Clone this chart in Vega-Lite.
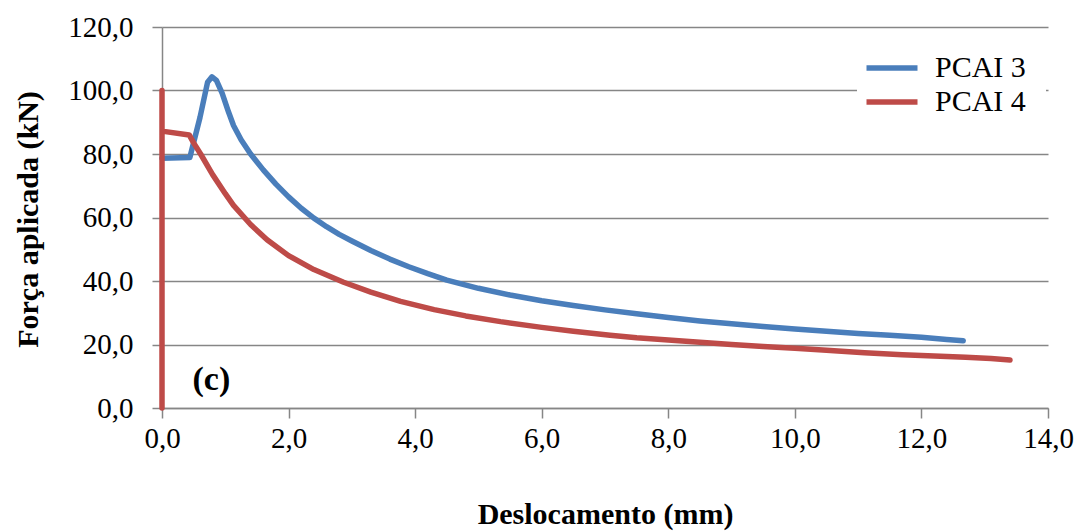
{
  "$schema": "https://vega.github.io/schema/vega-lite/v6.json",
  "width": 886,
  "height": 381,
  "autosize": {"type": "none"},
  "padding": {"left": 162, "top": 27, "right": 36, "bottom": 124},
  "background": "white",
  "config": {
    "view": {"stroke": null},
    "font": "Liberation Serif"
  },
  "layer": [
    {
      "data": {
        "values": [
          {"s": "PCAI 3", "i": 1, "x": 0.0, "y": 78.7},
          {"s": "PCAI 3", "i": 2, "x": 0.44, "y": 78.9},
          {"s": "PCAI 3", "i": 3, "x": 0.6, "y": 91.5},
          {"s": "PCAI 3", "i": 4, "x": 0.72, "y": 102.6},
          {"s": "PCAI 3", "i": 5, "x": 0.79, "y": 104.3},
          {"s": "PCAI 3", "i": 6, "x": 0.86, "y": 103.2},
          {"s": "PCAI 3", "i": 7, "x": 0.95, "y": 99.2},
          {"s": "PCAI 3", "i": 8, "x": 1.05, "y": 93.3},
          {"s": "PCAI 3", "i": 9, "x": 1.13, "y": 89.0},
          {"s": "PCAI 3", "i": 10, "x": 1.25, "y": 84.5},
          {"s": "PCAI 3", "i": 11, "x": 1.4, "y": 80.0},
          {"s": "PCAI 3", "i": 12, "x": 1.6, "y": 75.0},
          {"s": "PCAI 3", "i": 13, "x": 1.8, "y": 70.5},
          {"s": "PCAI 3", "i": 14, "x": 2.0, "y": 66.5},
          {"s": "PCAI 3", "i": 15, "x": 2.2, "y": 62.9},
          {"s": "PCAI 3", "i": 16, "x": 2.4, "y": 59.8},
          {"s": "PCAI 3", "i": 17, "x": 2.6, "y": 57.1},
          {"s": "PCAI 3", "i": 18, "x": 2.8, "y": 54.7},
          {"s": "PCAI 3", "i": 19, "x": 3.0, "y": 52.6},
          {"s": "PCAI 3", "i": 20, "x": 3.3, "y": 49.6},
          {"s": "PCAI 3", "i": 21, "x": 3.6, "y": 46.9},
          {"s": "PCAI 3", "i": 22, "x": 3.9, "y": 44.5},
          {"s": "PCAI 3", "i": 23, "x": 4.2, "y": 42.3},
          {"s": "PCAI 3", "i": 24, "x": 4.5, "y": 40.3},
          {"s": "PCAI 3", "i": 25, "x": 5.0, "y": 37.7},
          {"s": "PCAI 3", "i": 26, "x": 5.5, "y": 35.6},
          {"s": "PCAI 3", "i": 27, "x": 6.0, "y": 33.8},
          {"s": "PCAI 3", "i": 28, "x": 6.5, "y": 32.3},
          {"s": "PCAI 3", "i": 29, "x": 7.0, "y": 30.9},
          {"s": "PCAI 3", "i": 30, "x": 7.5, "y": 29.7},
          {"s": "PCAI 3", "i": 31, "x": 8.0, "y": 28.5},
          {"s": "PCAI 3", "i": 32, "x": 8.5, "y": 27.4},
          {"s": "PCAI 3", "i": 33, "x": 9.0, "y": 26.5},
          {"s": "PCAI 3", "i": 34, "x": 9.5, "y": 25.7},
          {"s": "PCAI 3", "i": 35, "x": 10.0, "y": 24.9},
          {"s": "PCAI 3", "i": 36, "x": 10.5, "y": 24.2},
          {"s": "PCAI 3", "i": 37, "x": 11.0, "y": 23.5},
          {"s": "PCAI 3", "i": 38, "x": 11.5, "y": 22.9},
          {"s": "PCAI 3", "i": 39, "x": 12.0, "y": 22.3},
          {"s": "PCAI 3", "i": 40, "x": 12.4, "y": 21.6},
          {"s": "PCAI 3", "i": 41, "x": 12.66, "y": 21.2},
          {"s": "PCAI 4", "i": 1, "x": 0.0, "y": 0.0},
          {"s": "PCAI 4", "i": 2, "x": 0.0, "y": 100.0},
          {"s": "PCAI 4", "i": 3, "x": 0.0, "y": 87.2},
          {"s": "PCAI 4", "i": 4, "x": 0.43, "y": 86.0},
          {"s": "PCAI 4", "i": 5, "x": 0.5, "y": 83.5},
          {"s": "PCAI 4", "i": 6, "x": 0.61, "y": 80.0},
          {"s": "PCAI 4", "i": 7, "x": 0.8, "y": 73.5},
          {"s": "PCAI 4", "i": 8, "x": 1.0, "y": 67.5},
          {"s": "PCAI 4", "i": 9, "x": 1.13, "y": 63.8},
          {"s": "PCAI 4", "i": 10, "x": 1.4, "y": 57.8},
          {"s": "PCAI 4", "i": 11, "x": 1.66, "y": 53.0},
          {"s": "PCAI 4", "i": 12, "x": 2.0, "y": 48.0},
          {"s": "PCAI 4", "i": 13, "x": 2.4, "y": 43.6},
          {"s": "PCAI 4", "i": 14, "x": 2.87, "y": 39.6},
          {"s": "PCAI 4", "i": 15, "x": 3.3, "y": 36.5},
          {"s": "PCAI 4", "i": 16, "x": 3.77, "y": 33.6},
          {"s": "PCAI 4", "i": 17, "x": 4.3, "y": 31.0},
          {"s": "PCAI 4", "i": 18, "x": 4.8, "y": 29.0},
          {"s": "PCAI 4", "i": 19, "x": 5.35, "y": 27.2},
          {"s": "PCAI 4", "i": 20, "x": 6.0, "y": 25.4},
          {"s": "PCAI 4", "i": 21, "x": 6.5, "y": 24.2},
          {"s": "PCAI 4", "i": 22, "x": 7.08, "y": 22.9},
          {"s": "PCAI 4", "i": 23, "x": 7.5, "y": 22.1},
          {"s": "PCAI 4", "i": 24, "x": 8.0, "y": 21.4},
          {"s": "PCAI 4", "i": 25, "x": 8.5, "y": 20.7},
          {"s": "PCAI 4", "i": 26, "x": 9.0, "y": 20.0},
          {"s": "PCAI 4", "i": 27, "x": 9.5, "y": 19.4},
          {"s": "PCAI 4", "i": 28, "x": 10.0, "y": 18.8},
          {"s": "PCAI 4", "i": 29, "x": 10.5, "y": 18.2},
          {"s": "PCAI 4", "i": 30, "x": 11.1, "y": 17.4},
          {"s": "PCAI 4", "i": 31, "x": 11.7, "y": 16.8},
          {"s": "PCAI 4", "i": 32, "x": 12.2, "y": 16.4},
          {"s": "PCAI 4", "i": 33, "x": 12.7, "y": 16.0},
          {"s": "PCAI 4", "i": 34, "x": 13.1, "y": 15.6},
          {"s": "PCAI 4", "i": 35, "x": 13.4, "y": 15.1}
        ]
      },
      "mark": {"type": "line", "strokeWidth": 5.5, "strokeCap": "round", "strokeJoin": "round"},
      "encoding": {
        "x": {
          "field": "x", "type": "quantitative",
          "scale": {"domain": [0, 14], "nice": false},
          "axis": {
            "values": [0, 2, 4, 6, 8, 10, 12, 14],
            "labelExpr": "replace(format(datum.value, '.1f'), '.', ',')",
            "labelFlush": false,
            "grid": false,
            "domainColor": "#868686", "domainWidth": 1.5,
            "tickColor": "#868686", "tickWidth": 1.5, "tickSize": 10,
            "labelFont": "Liberation Serif", "labelFontSize": 29, "labelColor": "black",
            "labelPadding": 6,
            "title": "Deslocamento (mm)",
            "titleFont": "Liberation Serif", "titleFontSize": 30, "titleFontWeight": "bold", "titleColor": "black",
            "titleX": 443, "titleY": 106, "titleBaseline": "middle", "titleAlign": "center"
          }
        },
        "y": {
          "field": "y", "type": "quantitative",
          "scale": {"domain": [0, 120], "nice": false},
          "axis": {
            "values": [0, 20, 40, 60, 80, 100, 120],
            "labelExpr": "replace(format(datum.value, '.1f'), '.', ',')",
            "labelFlush": false,
            "grid": true, "gridColor": "#868686", "gridWidth": 1.5,
            "domainColor": "#868686", "domainWidth": 1.5,
            "tickColor": "#868686", "tickWidth": 1.5, "tickSize": 10,
            "labelFont": "Liberation Serif", "labelFontSize": 29, "labelColor": "black",
            "labelPadding": 19,
            "title": "Força aplicada (kN)",
            "titleFont": "Liberation Serif", "titleFontSize": 30, "titleFontWeight": "bold", "titleColor": "black",
            "titleAngle": 270, "titleX": -134, "titleY": 192, "titleBaseline": "middle", "titleAlign": "center"
          }
        },
        "color": {
          "field": "s", "type": "nominal",
          "scale": {"domain": ["PCAI 3", "PCAI 4"], "range": ["#4A7EBB", "#BE4B48"]},
          "legend": {
            "title": null,
            "orient": "none",
            "legendX": 695,
            "legendY": 6,
            "padding": 20,
            "fillColor": "white",
            "symbolType": "M-3,0H3",
            "symbolSize": 289,
            "symbolStrokeWidth": 5.5,
            "labelOffset": 28,
            "labelFont": "Liberation Serif",
            "labelFontSize": 30,
            "labelColor": "black",
            "rowPadding": 4
          }
        },
        "order": {"field": "i", "type": "quantitative"}
      }
    },
    {
      "data": {"values": [{"x": 0.78, "y": 8.8, "t": "(c)"}]},
      "mark": {"type": "text", "font": "Liberation Serif", "fontSize": 34, "fontWeight": "bold", "align": "center", "baseline": "middle", "color": "black"},
      "encoding": {
        "x": {"field": "x", "type": "quantitative"},
        "y": {"field": "y", "type": "quantitative"},
        "text": {"field": "t", "type": "nominal"}
      }
    }
  ]
}
